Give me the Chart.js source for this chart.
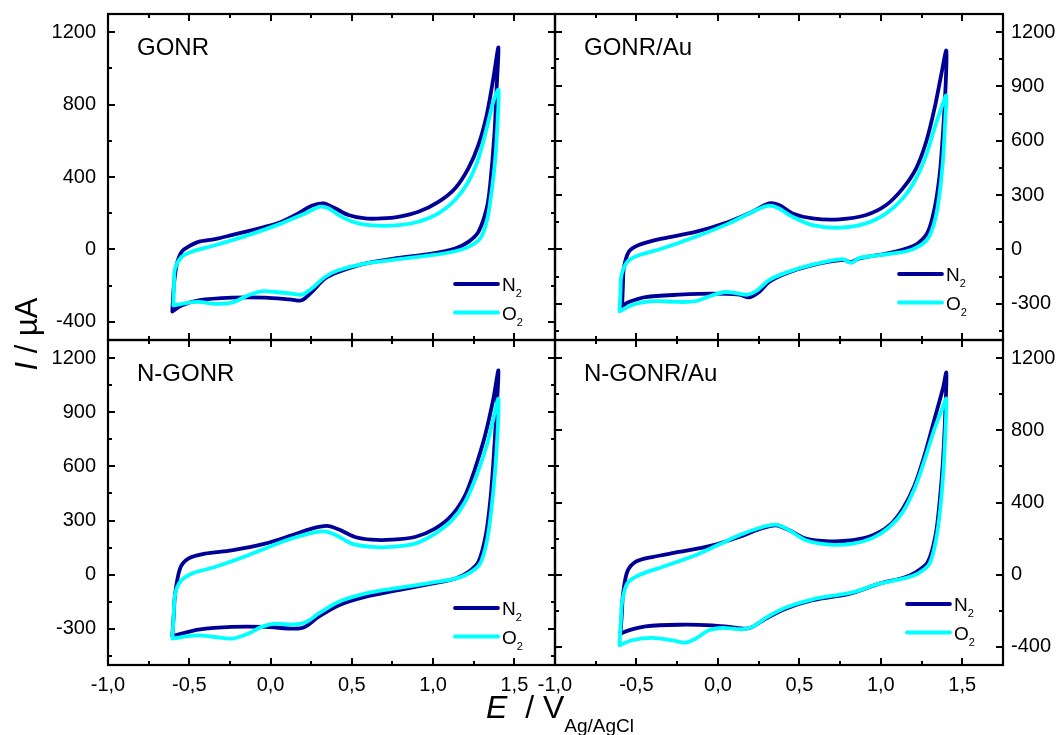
<!DOCTYPE html>
<html><head><meta charset="utf-8">
<script src="https://cdn.jsdelivr.net/npm/chart.js@4.4.1/dist/chart.umd.min.js"></script>
<style>
html,body{margin:0;padding:0;background:#fff;}
#wrap{position:relative;width:1057px;height:735px;overflow:hidden;background:#fff;}
canvas{position:absolute;left:0;top:0;}
</style></head><body>
<div id="wrap">
<canvas id="c1" width="1057" height="735"></canvas>
<canvas id="c2" width="1057" height="735"></canvas>
<canvas id="c3" width="1057" height="735"></canvas>
<canvas id="c4" width="1057" height="735"></canvas>
</div>
<script>
// ---- data: [E (V vs Ag/AgCl), I (µA)] along the CV loop ----
const GONR_N2 = [[-0.604,-336],[-0.595,-200],[-0.578,-87],[-0.547,-13],[-0.506,15],[-0.444,42],[-0.342,57],[-0.239,79],[-0.034,125],[0.068,153],[0.171,199],[0.253,241],[0.325,254],[0.397,227],[0.479,190],[0.581,171],[0.684,171],[0.786,180],[0.91,208],[1.033,263],[1.135,337],[1.217,448],[1.279,577],[1.33,743],[1.371,946],[1.402,1116],
  [1.392,910],[1.377,633],[1.351,356],[1.33,227],[1.279,97],[1.217,42],[1.135,5],[0.992,-23],[0.786,-47],[0.581,-78],[0.417,-124],[0.335,-161],[0.253,-235],[0.192,-281],[0.13,-277],[-0.034,-266],[-0.239,-266],[-0.444,-281],[-0.547,-309],[-0.604,-342]];
const GONR_O2 = [[-0.598,-309],[-0.594,-200],[-0.588,-106],[-0.547,-41],[-0.486,-13],[-0.342,23],[-0.137,79],[0.068,144],[0.212,199],[0.305,236],[0.356,227],[0.438,180],[0.54,144],[0.663,131],[0.786,134],[0.91,153],[1.033,199],[1.135,273],[1.217,374],[1.279,503],[1.33,670],[1.371,817],[1.402,882],
  [1.398,725],[1.381,485],[1.357,300],[1.33,153],[1.289,60],[1.217,14],[1.135,-10],[0.992,-32],[0.786,-54],[0.581,-78],[0.417,-115],[0.335,-152],[0.253,-216],[0.192,-250],[0.13,-244],[0.028,-235],[-0.055,-231],[-0.137,-253],[-0.239,-294],[-0.342,-300],[-0.444,-290],[-0.547,-300],[-0.598,-309]];
const GONRAu_N2 = [[-0.588,-309],[-0.583,-200],[-0.578,-106],[-0.547,-13],[-0.486,24],[-0.342,60],[-0.137,97],[0.068,153],[0.212,208],[0.314,254],[0.375,245],[0.458,199],[0.581,171],[0.746,166],[0.91,190],[1.033,245],[1.135,337],[1.217,448],[1.279,596],[1.33,780],[1.371,965],[1.402,1098],
  [1.398,910],[1.381,633],[1.361,411],[1.33,227],[1.289,97],[1.227,33],[1.156,5],[1.033,-23],[0.87,-50],[0.815,-70],[0.77,-58],[0.581,-87],[0.417,-133],[0.314,-180],[0.253,-235],[0.192,-265],[0.13,-250],[-0.034,-244],[-0.239,-250],[-0.444,-263],[-0.547,-290],[-0.588,-312]];
const GONRAu_O2 = [[-0.604,-342],[-0.598,-230],[-0.592,-143],[-0.557,-69],[-0.486,-32],[-0.342,5],[-0.137,70],[0.068,144],[0.212,208],[0.305,241],[0.366,230],[0.458,180],[0.581,134],[0.746,120],[0.91,144],[1.033,199],[1.135,282],[1.217,393],[1.279,522],[1.33,670],[1.371,780],[1.402,850],
  [1.396,725],[1.381,485],[1.357,282],[1.33,153],[1.289,60],[1.227,14],[1.156,-10],[0.992,-32],[0.869,-47],[0.818,-74],[0.766,-54],[0.581,-84],[0.417,-128],[0.314,-170],[0.233,-231],[0.182,-250],[0.13,-244],[0.048,-235],[-0.034,-253],[-0.137,-286],[-0.239,-290],[-0.383,-285],[-0.506,-300],[-0.604,-342]];
const NGONR_N2 = [[-0.604,-335],[-0.596,-230],[-0.588,-114],[-0.557,34],[-0.506,89],[-0.404,117],[-0.239,135],[-0.034,172],[0.13,218],[0.253,255],[0.345,270],[0.417,252],[0.52,209],[0.622,194],[0.746,194],[0.889,209],[1.012,255],[1.115,329],[1.197,440],[1.258,587],[1.32,772],[1.371,975],[1.402,1132],
  [1.392,938],[1.371,624],[1.351,403],[1.324,218],[1.279,71],[1.217,15],[1.135,-22],[0.992,-49],[0.786,-86],[0.581,-123],[0.417,-170],[0.294,-234],[0.212,-289],[0.15,-299],[-0.034,-289],[-0.239,-289],[-0.444,-304],[-0.547,-326],[-0.604,-339]];
const NGONR_O2 = [[-0.604,-354],[-0.596,-230],[-0.588,-114],[-0.557,-40],[-0.486,6],[-0.342,43],[-0.137,108],[0.068,181],[0.212,222],[0.325,240],[0.397,222],[0.499,172],[0.622,154],[0.746,154],[0.889,172],[1.012,228],[1.115,301],[1.197,403],[1.268,551],[1.33,717],[1.371,864],[1.402,975],
  [1.398,809],[1.381,569],[1.357,348],[1.33,181],[1.289,61],[1.217,6],[1.135,-22],[0.992,-44],[0.786,-73],[0.581,-105],[0.417,-151],[0.294,-216],[0.212,-265],[0.13,-276],[0.028,-271],[-0.055,-289],[-0.137,-326],[-0.239,-354],[-0.342,-345],[-0.444,-336],[-0.547,-345],[-0.604,-354]];
const NGONRAu_N2 = [[-0.598,-326],[-0.59,-220],[-0.583,-114],[-0.557,15],[-0.506,71],[-0.404,98],[-0.239,126],[-0.034,163],[0.13,209],[0.253,252],[0.356,274],[0.438,246],[0.54,200],[0.684,185],[0.828,191],[0.951,218],[1.053,274],[1.135,366],[1.207,495],[1.268,661],[1.33,864],[1.381,1031],[1.402,1119],
  [1.396,901],[1.381,624],[1.361,403],[1.336,218],[1.289,71],[1.217,15],[1.135,-18],[0.992,-49],[0.849,-95],[0.786,-110],[0.581,-141],[0.417,-188],[0.294,-243],[0.212,-289],[0.171,-299],[0.068,-289],[-0.034,-280],[-0.239,-277],[-0.444,-286],[-0.547,-308],[-0.598,-326]];
const NGONRAu_O2 = [[-0.604,-391],[-0.596,-260],[-0.588,-151],[-0.557,-49],[-0.486,-3],[-0.342,43],[-0.137,108],[0.007,167],[0.13,218],[0.253,259],[0.356,277],[0.438,246],[0.54,191],[0.684,167],[0.828,172],[0.951,204],[1.053,264],[1.135,348],[1.207,477],[1.268,634],[1.33,809],[1.381,929],[1.402,975],
  [1.398,827],[1.385,587],[1.365,366],[1.34,200],[1.299,61],[1.227,6],[1.135,-22],[0.992,-49],[0.849,-92],[0.786,-105],[0.581,-136],[0.417,-182],[0.294,-239],[0.212,-289],[0.15,-302],[0.028,-295],[-0.055,-308],[-0.137,-354],[-0.198,-376],[-0.28,-363],[-0.404,-350],[-0.527,-363],[-0.604,-391]];

const panelTitles = ['GONR', 'GONR/Au', 'N-GONR', 'N-GONR/Au'];
const seriesNames = ['N2', 'O2'];
const X_MAJOR = [-1, -0.5, 0, 0.5, 1, 1.5];
const X_MINOR = [-0.75, -0.25, 0.25, 0.75, 1.25];
const Y400_MAJOR = [-400, 0, 400, 800, 1200];
const Y400_MINOR = [-200, 200, 600, 1000];
const Y300_MAJOR = [-300, 0, 300, 600, 900, 1200];
const Y300_MINOR = [-450, -150, 150, 450, 750, 1050];
const X_RANGE = [-1, 1.75];
const Y_RANGE = [-500, 1300];

const COLORS = {N2: '#000096', O2: '#00FFFF'};
const FONT = '"Liberation Sans", Arial, Helvetica, sans-serif';
const W = 1057, H = 735;

const panels = [
  {id: 'c1', title: panelTitles[0], n2: GONR_N2, o2: GONR_O2, yMaj: Y400_MAJOR, yMin: Y400_MINOR, side: 'left', showX: false,
   area: {l: 108, t: 14, r: 555, b: 340}, leg: {x: 455, y: 284}},
  {id: 'c2', title: panelTitles[1], n2: GONRAu_N2, o2: GONRAu_O2, yMaj: Y300_MAJOR, yMin: Y300_MINOR, side: 'right', showX: false,
   area: {l: 555, t: 14, r: 1003, b: 340}, leg: {x: 899, y: 274}},
  {id: 'c3', title: panelTitles[2], n2: NGONR_N2, o2: NGONR_O2, yMaj: Y300_MAJOR, yMin: Y300_MINOR, side: 'left', showX: true,
   area: {l: 108, t: 340, r: 555, b: 665}, leg: {x: 455, y: 608}},
  {id: 'c4', title: panelTitles[3], n2: NGONRAu_N2, o2: NGONRAu_O2, yMaj: Y400_MAJOR, yMin: Y400_MINOR, side: 'right', showX: true,
   area: {l: 555, t: 340, r: 1003, b: 665}, leg: {x: 907, y: 604}}
];

const fmtX = v => v.toFixed(1).replace('.', ',');

const framePlugin = {
  id: 'frame',
  afterDatasetsDraw(chart, args, o) {
    const ctx = chart.ctx, a = chart.chartArea;
    const xs = chart.scales.x, ys = chart.scales.y;
    ctx.save();
    ctx.strokeStyle = '#000';
    ctx.lineWidth = 2;
    ctx.beginPath();
    xs.ticks.forEach(t => {
      const p = Math.round(xs.getPixelForValue(t.value));
      const len = o.xMaj.includes(t.value) ? 7 : 4;
      ctx.moveTo(p, a.bottom); ctx.lineTo(p, a.bottom - len);
      ctx.moveTo(p, a.top); ctx.lineTo(p, a.top + len);
    });
    ys.ticks.forEach(t => {
      const p = Math.round(ys.getPixelForValue(t.value));
      const len = o.yMaj.includes(t.value) ? 7 : 4;
      ctx.moveTo(a.left, p); ctx.lineTo(a.left + len, p);
      ctx.moveTo(a.right, p); ctx.lineTo(a.right - len, p);
    });
    ctx.stroke();
    ctx.lineWidth = 2.2;
    ctx.strokeRect(a.left, a.top, a.right - a.left, a.bottom - a.top);
    // panel label
    ctx.fillStyle = '#000';
    ctx.font = '24px ' + FONT;
    ctx.textBaseline = 'alphabetic';
    ctx.textAlign = 'left';
    ctx.fillText(o.title, a.left + 29, a.top + 41);
    // legend
    chart.data.datasets.forEach((ds, i) => {
      const y = o.leg.y + i * 28.5;
      ctx.strokeStyle = ds.borderColor;
      ctx.lineWidth = 3.8;
      ctx.lineCap = 'round';
      ctx.beginPath(); ctx.moveTo(o.leg.x, y); ctx.lineTo(o.leg.x + 43, y); ctx.stroke();
      const main = ds.label.charAt(0), sub = ds.label.slice(1);
      ctx.fillStyle = '#000';
      ctx.font = '19px ' + FONT;
      ctx.fillText(main, o.leg.x + 47, y + 7);
      const w = ctx.measureText(main).width;
      ctx.font = '11px ' + FONT;
      ctx.fillText(sub, o.leg.x + 47 + w, y + 13);
    });
    ctx.restore();
  }
};

const titlesPlugin = {
  id: 'axisTitles',
  afterDraw(chart) {
    const ctx = chart.ctx;
    ctx.save();
    ctx.fillStyle = '#000';
    ctx.textBaseline = 'alphabetic';
    ctx.textAlign = 'left';
    // y title
    ctx.translate(37, 334);
    ctx.rotate(-Math.PI / 2);
    ctx.font = 'italic 31px ' + FONT;
    const wI = ctx.measureText('I').width;
    ctx.font = '31px ' + FONT;
    const wR = ctx.measureText(' / \u00b5A').width;
    let x0 = -(wI + wR) / 2;
    ctx.font = 'italic 31px ' + FONT;
    ctx.fillText('I', x0, 0);
    ctx.font = '31px ' + FONT;
    ctx.fillText(' / \u00b5A', x0 + wI, 0);
    ctx.setTransform(1, 0, 0, 1, 0, 0);
    // x title
    const xs = 486, base = 718;
    ctx.font = 'italic 32px ' + FONT;
    ctx.fillText('E', xs, base);
    const wE = ctx.measureText('E').width;
    ctx.font = '32px ' + FONT;
    ctx.fillText('  / V', xs + wE, base);
    const wV = ctx.measureText('  / V').width;
    ctx.font = '19px ' + FONT;
    ctx.fillText('Ag/AgCl', xs + wE + wV, base + 14);
    ctx.restore();
  }
};

const zeroPad = s => { s.paddingTop = 0; s.paddingBottom = 0; s.paddingLeft = 0; s.paddingRight = 0; };

panels.forEach((p, idx) => {
  const yAll = p.yMaj.concat(p.yMin).sort((a, b) => a - b);
  const xAll = X_MAJOR.concat(X_MINOR).sort((a, b) => a - b);
  const yW = p.side === 'left' ? 60 : 54;
  const xH = p.showX ? 40 : 0;
  const pad = {
    left: p.side === 'left' ? p.area.l - yW : p.area.l,
    right: p.side === 'left' ? W - p.area.r : W - p.area.r - yW,
    top: p.area.t,
    bottom: H - p.area.b - xH
  };
  const mk = (pairs, name, order) => ({
    label: name,
    data: pairs.map(d => ({x: d[0], y: d[1]})),
    borderColor: COLORS[name],
    backgroundColor: COLORS[name],
    borderWidth: 3.8,
    pointRadius: 0,
    tension: 0.3,
    fill: false,
    borderCapStyle: 'round',
    borderJoinStyle: 'round',
    order: order
  });
  const plugins = [framePlugin];
  if (idx === 3) plugins.push(titlesPlugin);
  new Chart(document.getElementById(p.id), {
    type: 'line',
    data: {datasets: [mk(p.n2, seriesNames[0], 2), mk(p.o2, seriesNames[1], 1)]},
    plugins: plugins,
    options: {
      responsive: false,
      animation: false,
      devicePixelRatio: 1,
      layout: {padding: pad},
      plugins: {
        legend: {display: false},
        tooltip: {enabled: false},
        frame: {title: p.title, leg: p.leg, xMaj: X_MAJOR, yMaj: p.yMaj}
      },
      scales: {
        x: {
          type: 'linear', min: X_RANGE[0], max: X_RANGE[1], position: 'bottom',
          grid: {display: false, drawTicks: false}, border: {display: false},
          ticks: {display: p.showX, autoSkip: false, maxRotation: 0, padding: 8, color: '#000',
                  font: {family: FONT, size: 20},
                  callback: v => X_MAJOR.includes(v) ? fmtX(v) : ''},
          afterBuildTicks: s => { s.ticks = xAll.map(v => ({value: v})); },
          afterFit: s => { s.height = xH; zeroPad(s); }
        },
        y: {
          type: 'linear', min: Y_RANGE[0], max: Y_RANGE[1], position: p.side,
          grid: {display: false, drawTicks: false}, border: {display: false},
          ticks: {autoSkip: false, padding: p.side === 'left' ? 12 : 8, color: '#000',
                  font: {family: FONT, size: 20},
                  callback: v => p.yMaj.includes(v) ? String(v) : ''},
          afterBuildTicks: s => { s.ticks = yAll.map(v => ({value: v})); },
          afterFit: s => { s.width = yW; zeroPad(s); }
        }
      }
    }
  });
});
</script>
</body></html>
